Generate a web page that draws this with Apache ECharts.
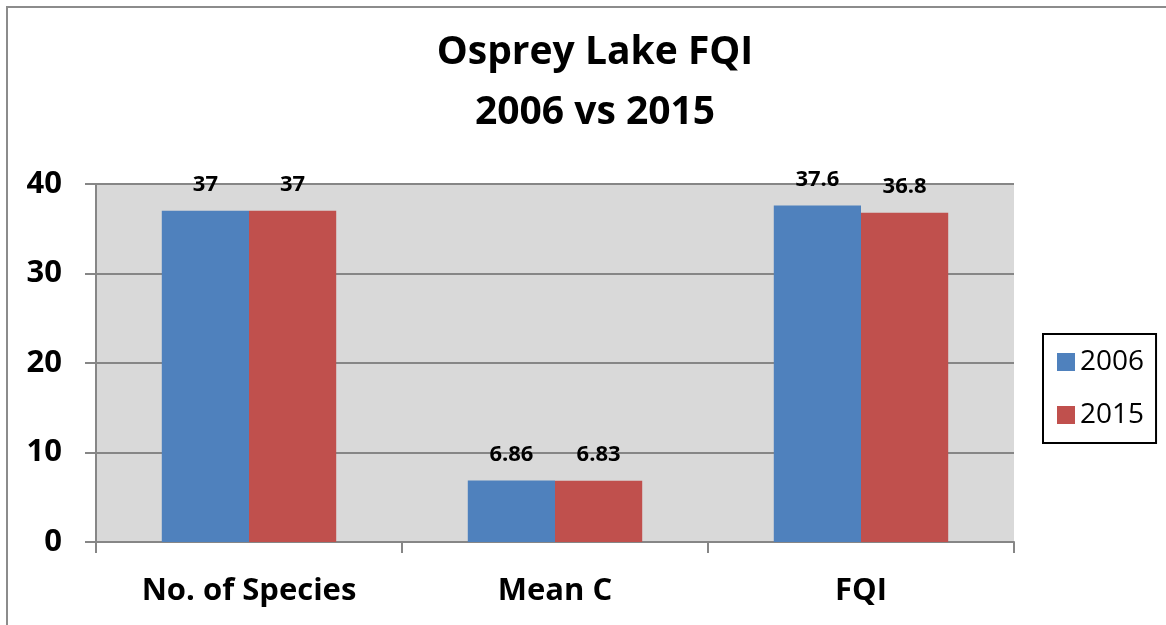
<!DOCTYPE html>
<html>
<head>
<meta charset="utf-8">
<script src="https://cdn.jsdelivr.net/npm/echarts@6/dist/echarts.min.js"></script>
<style>
    html, body {margin: 0; padding: 0; background: #fff;}
    #main {width: 1166px; height: 625px;}
</style>
</head>
<body>
<div id="main"></div>
<script>
// 数据
let categories = ['No. of Species', 'Mean C', 'FQI'];
let seriesNames = ['2006', '2015'];
let values2006 = [37, 6.86, 37.6];
let values2015 = [37, 6.83, 36.8];
let yTicks = [0, 10, 20, 30, 40];

let fontFam = '"Open Sans", Lato, sans-serif';
let gridColor = '#868686';

let myChart = echarts.init(document.getElementById('main'));
let option = {
    backgroundColor: '#fff',
    animation: false,
    title: {
        text: 'Osprey Lake FQI\n2006 vs 2015',
        left: 590,
        textAlign: 'center',
        top: 18,
        textStyle: {
            fontFamily: fontFam,
            fontWeight: 'bold',
            fontSize: 39,
            lineHeight: 60,
            color: '#000'
        }
    },
    graphic: [
        {
            type: 'polyline',
            shape: {points: [[7, 640], [7, 7], [1180, 7]]},
            style: {stroke: '#8c8c8c', lineWidth: 2, fill: null},
            silent: true
        }
    ],
    legend: {
        orient: 'vertical',
        left: 1043,
        top: 334,
        width: 116,
        height: 109,
        padding: [14, 12, 14, 14],
        itemWidth: 18,
        itemHeight: 18,
        itemGap: 25,
        borderColor: '#000',
        borderWidth: 2,
        icon: 'rect',
        data: seriesNames,
        textStyle: {fontFamily: fontFam, fontSize: 28, color: '#000'}
    },
    grid: {
        left: 96,
        right: 152,
        top: 184,
        bottom: 83,
        show: true,
        backgroundColor: '#d9d9d9',
        borderWidth: 0
    },
    xAxis: {
        type: 'category',
        data: categories,
        axisLine: {show: true, lineStyle: {color: gridColor, width: 2}},
        axisTick: {show: true, length: 11, lineStyle: {color: gridColor, width: 2}},
        axisLabel: {
            margin: 34,
            fontFamily: fontFam,
            fontWeight: 'bold',
            fontSize: 31,
            color: '#000'
        }
    },
    yAxis: {
        type: 'value',
        min: yTicks[0],
        max: yTicks[yTicks.length - 1],
        interval: 10,
        axisLine: {show: true, lineStyle: {color: gridColor, width: 2}},
        axisTick: {show: true, length: 11, lineStyle: {color: gridColor, width: 2}},
        splitLine: {show: true, lineStyle: {color: gridColor, width: 2}},
        axisLabel: {
            margin: 34,
            fontFamily: fontFam,
            fontWeight: 'bold',
            fontSize: 31,
            color: '#000'
        }
    },
    series: [
        {
            name: seriesNames[0],
            type: 'bar',
            data: values2006,
            barGap: '0%',
            barCategoryGap: '43%',
            itemStyle: {color: '#4f81bd'},
            label: {
                show: true,
                position: 'top',
                distance: 15,
                fontFamily: fontFam,
                fontWeight: 'bold',
                fontSize: 22,
                color: '#000'
            }
        },
        {
            name: seriesNames[1],
            type: 'bar',
            data: values2015,
            barGap: '0%',
            barCategoryGap: '43%',
            itemStyle: {color: '#c0504d'},
            label: {
                show: true,
                position: 'top',
                distance: 15,
                fontFamily: fontFam,
                fontWeight: 'bold',
                fontSize: 22,
                color: '#000'
            }
        }
    ]
};
myChart.setOption(option);
</script>
</body>
</html>
